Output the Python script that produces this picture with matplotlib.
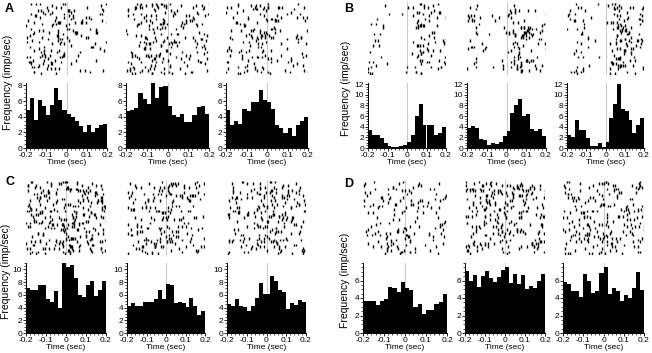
import numpy as np
import matplotlib
matplotlib.use("Agg")
import matplotlib.pyplot as plt
from matplotlib.ticker import AutoMinorLocator

plt.rcParams["font.family"] = ["Liberation Sans", "DejaVu Sans"]

# histogram bins: 20 bins of 20 ms from -0.2 to 0.2 s
edges = np.linspace(-0.2, 0.2, 21)
xticks = [-0.2, -0.1, 0, 0.1, 0.2]
xtick_labels = ["-0.2", "-0.1", "0", "0.1", "0.2"]

# firing rates (imp/sec)
a1 = [4.8, 6.4, 3.6, 6.1, 5.3, 4.2, 5.5, 7.6, 6.1, 4.8, 4.4, 3.9, 3.4, 2.8, 2.1, 2.9, 2.1, 2.5, 3.0, 3.1]
a2 = [4.7, 4.9, 5.1, 7.0, 6.3, 5.6, 8.3, 6.4, 7.8, 7.9, 5.3, 4.2, 3.9, 4.3, 3.3, 3.3, 4.2, 5.2, 5.3, 4.3]
a3 = [4.8, 2.9, 3.4, 3.1, 5.0, 4.7, 5.9, 5.9, 7.4, 6.1, 5.9, 5.0, 2.9, 2.5, 1.9, 2.5, 1.5, 2.9, 3.4, 4.0]
b1 = [3.3, 2.5, 2.5, 1.9, 1.0, 0.4, 0.1, 0.1, 0.3, 0.6, 1.2, 2.5, 6.0, 8.3, 4.3, 4.3, 4.3, 2.5, 2.9, 4.0]
b2 = [3.8, 4.2, 3.8, 1.6, 1.5, 0.6, 0.9, 0.7, 1.2, 2.2, 3.2, 6.6, 8.1, 9.2, 6.0, 6.3, 3.6, 3.2, 3.6, 2.3]
b3 = [2.4, 2.0, 5.3, 3.3, 3.3, 1.9, 0.4, 0.4, 0.9, 0.1, 1.2, 5.6, 8.2, 12.0, 7.3, 7.0, 5.3, 2.9, 4.4, 5.6]
c1 = [7.0, 6.8, 6.8, 7.6, 7.6, 5.4, 4.9, 6.6, 3.9, 11.0, 10.3, 10.7, 8.7, 5.9, 5.6, 7.6, 8.1, 5.8, 6.8, 8.1]
c2 = [4.3, 4.7, 4.3, 4.3, 4.9, 4.9, 4.9, 5.3, 6.8, 5.3, 7.7, 7.5, 4.7, 4.9, 4.7, 4.1, 5.5, 4.2, 2.8, 3.4]
c3 = [4.5, 4.3, 5.4, 4.3, 4.1, 3.4, 4.3, 5.5, 7.8, 6.1, 6.1, 8.9, 8.1, 6.7, 6.4, 3.8, 4.7, 4.4, 5.2, 4.8]
d1 = [3.7, 3.7, 3.7, 3.2, 3.7, 3.9, 5.3, 5.2, 4.7, 5.8, 5.2, 4.9, 3.0, 3.3, 2.2, 2.6, 2.6, 3.3, 3.6, 4.5]
d2 = [7.1, 6.0, 6.6, 5.3, 6.5, 7.1, 6.3, 5.8, 6.4, 7.2, 7.6, 5.7, 6.7, 5.6, 6.6, 5.0, 5.4, 5.2, 6.0, 6.7]
d3 = [5.8, 5.6, 4.8, 4.8, 4.1, 6.8, 6.0, 4.6, 4.8, 6.9, 7.6, 4.5, 5.1, 4.8, 3.7, 4.4, 4.0, 5.2, 7.0, 4.9]

panels = ["A", "B", "C", "D"]
panel_data = {"A": [a1, a2, a3], "B": [b1, b2, b3], "C": [c1, c2, c3], "D": [d1, d2, d3]}
panel_ylim = {"A": 8.3, "B": 12.2, "C": 11.0, "D": 8.0}
panel_yticks = {"A": [0, 2, 4, 6, 8], "B": [0, 2, 4, 6, 8, 10, 12],
                "C": [0, 2, 4, 6, 8, 10], "D": [0, 2, 4, 6]}

W, H = 652, 353
fig = plt.figure(figsize=(W / 100, H / 100), dpi=100)

# pixel layout: x-extents of the three columns and y-extents of rows
col_x = {"A": [(26, 107), (126, 209), (226, 308)],
         "B": [(368, 446), (467, 546), (567, 644)],
         "C": [(26, 106), (127, 205), (227, 306)],
         "D": [(363, 447), (465, 545), (563, 644)]}
hist_y = {"A": (83, 148), "B": (83, 148), "C": (263, 333), "D": (263, 333)}
rast_y = {"A": (2, 75), "B": (2, 75), "C": (180, 255), "D": (180, 255)}
letter_xy = {"A": (5, 9), "B": (344, 9), "C": (5, 182), "D": (344, 184)}
ylab_xy = {"A": (8, 82), "B": (346, 88), "C": (6, 271), "D": (345, 280)}


def px_axes(x0, x1, y0, y1):
    return fig.add_axes([x0 / W, 1 - y1 / H, (x1 - x0) / W, (y1 - y0) / H])


def scramble(k, s):
    # integer hash -> [0, 1), fixed so the raster is the same on every run
    v = (k * 2654435761 + s * 97531 + 12345) % 2 ** 32
    v ^= v >> 16
    v = (v * 0x45D9F3B) % 2 ** 32
    v ^= v >> 16
    return v / 2 ** 32


def raster(ax, vals, seed, ntr=44, scale=2.0):
    # spikes placed per bin according to the histogram counts
    xs, ys = [], []
    k = 0
    for i, v in enumerate(vals):
        for j in range(int(round(v * scale))):
            k += 1
            xs.append(edges[i] + 0.02 * scramble(k, seed))
            ys.append(int(scramble(k, seed + 777) * (ntr - 1)))
    ys = np.array(ys)
    ax.axvline(0, color="#c8c8c8", lw=0.7, zorder=1)
    ax.vlines(xs, ys, ys + 1.6, color="k", lw=1.0, zorder=2)
    ax.set_xlim(-0.2, 0.2)
    ax.set_ylim(0, ntr)
    ax.axis("off")


seed = 1
for p in panels:
    for (x0, x1), vals in zip(col_x[p], panel_data[p]):
        rax = px_axes(x0, x1, *rast_y[p])
        raster(rax, vals, seed)
        seed += 13

        ax = px_axes(x0, x1, *hist_y[p])
        ax.axvline(0, color="#c8c8c8", lw=0.7, zorder=1)
        ax.bar(edges[:-1], vals, width=0.02, align="edge", color="k", linewidth=0, zorder=2)
        ax.set_xlim(-0.2, 0.2)
        ax.set_ylim(0, panel_ylim[p])
        ax.set_xticks(xticks)
        ax.set_xticklabels(xtick_labels)
        ax.set_yticks(panel_yticks[p])
        ax.xaxis.set_minor_locator(AutoMinorLocator(5))
        ax.yaxis.set_minor_locator(AutoMinorLocator(4))
        for s in ["top", "right"]:
            ax.spines[s].set_visible(False)
        for s in ["left", "bottom"]:
            ax.spines[s].set_linewidth(0.7)
        ax.tick_params(which="major", length=2, width=0.6, labelsize=6, pad=0.8)
        ax.tick_params(which="minor", length=1.2, width=0.5)
        ax.set_xlabel("Time (sec)", fontsize=6, labelpad=0)

    lx, ly = letter_xy[p]
    fig.text(lx / W, 1 - ly / H, p, fontsize=9, fontweight="bold", ha="left", va="center")
    tx, ty = ylab_xy[p]
    fig.text(tx / W, 1 - ty / H, "Frequency (imp/sec)", fontsize=7.5,
             rotation=90, ha="center", va="center")

fig.savefig("out.png", dpi=100)
